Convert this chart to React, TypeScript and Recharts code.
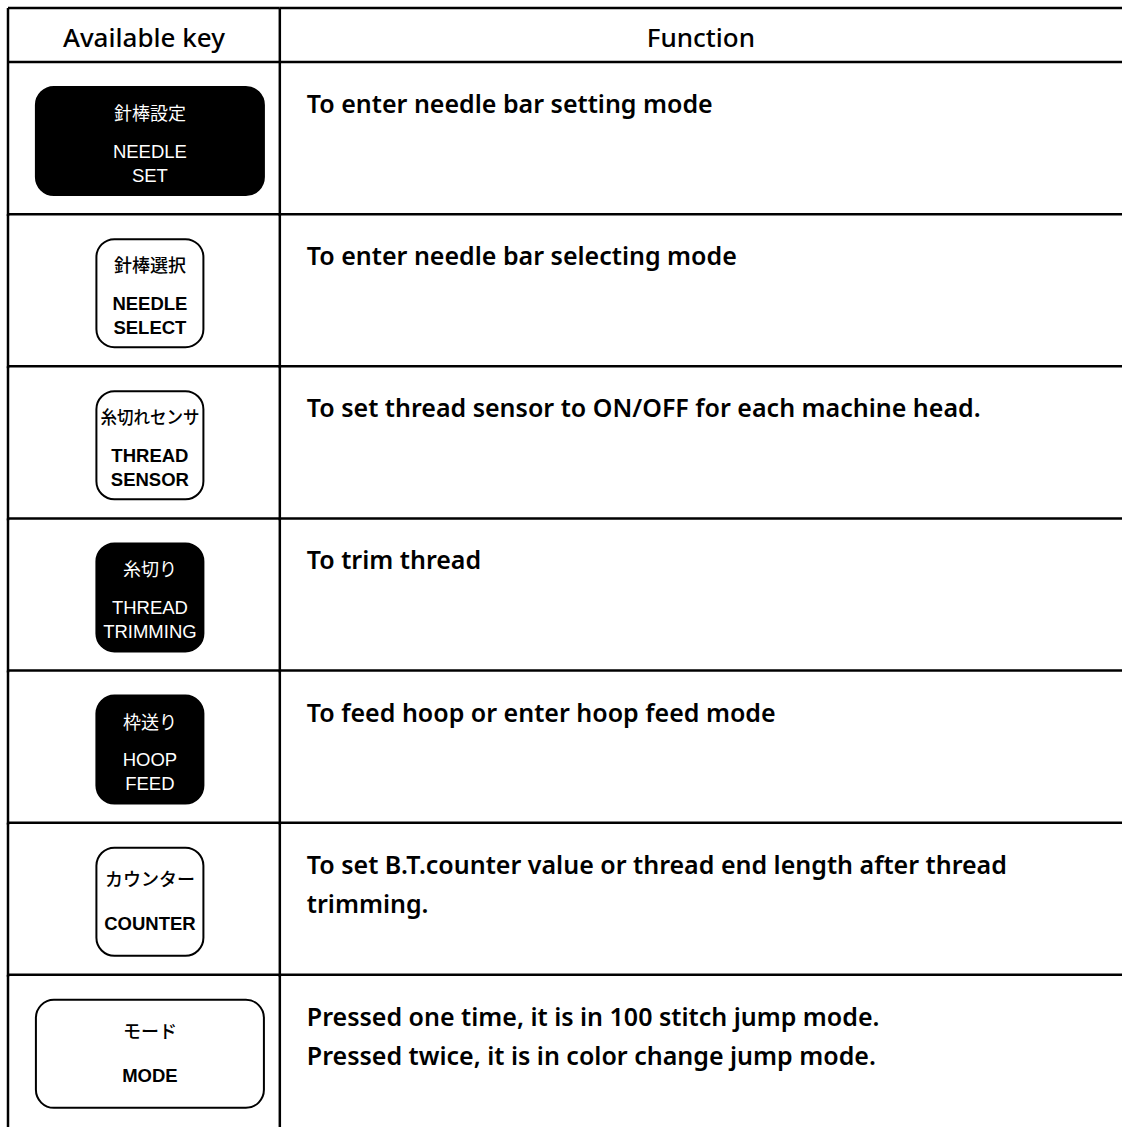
import { ComposedChart, Bar, XAxis, YAxis } from 'recharts'

const headers = ['Available key', 'Function']
const keyIds = ['needleSet', 'needleSelect', 'threadSensor', 'threadTrimming', 'hoopFeed', 'counter', 'mode']
const keyJapanese = ['針棒設定', '針棒選択', '糸切れセンサ', '糸切り', '枠送り', 'カウンター', 'モード']
const keyEnglish = [
  ['NEEDLE', 'SET'],
  ['NEEDLE', 'SELECT'],
  ['THREAD', 'SENSOR'],
  ['THREAD', 'TRIMMING'],
  ['HOOP', 'FEED'],
  ['COUNTER'],
  ['MODE']
]
const keyFilled = [true, false, false, true, true, false, false]
const keyWide = [true, false, false, false, false, false, true]
const functionText = [
  ['To enter needle bar setting mode'],
  ['To enter needle bar selecting mode'],
  ['To set thread sensor to ON/OFF for each machine head.'],
  ['To trim thread'],
  ['To feed hoop or enter hoop feed mode'],
  ['To set B.T.counter value or thread end length after thread', 'trimming.'],
  ['Pressed one time, it is in 100 stitch jump mode.', 'Pressed twice, it is in color change jump mode.']
]
// share of the table width taken by each column
const keyShare = 0.244
const functionShare = 0.756

const data = keyIds.map((id, i) => ({
  id,
  key: keyShare,
  func: functionShare,
  jp: keyJapanese[i],
  en: keyEnglish[i],
  filled: keyFilled[i],
  wide: keyWide[i],
  text: functionText[i]
}))

const HEADER_H = 54
const LINE = 2.5
const latin = '"Noto Sans", "Open Sans", sans-serif'
const cjk = '"Noto Sans CJK JP", sans-serif'
const keyFont = '"Liberation Sans", Arial, sans-serif'

const KeyCell = (props: any) => {
  const { x, y, width, height, index, payload } = props
  const cx = x + width / 2 + 6
  const cy = y + height / 2 + 3
  const w = payload.wide ? 228 : 107
  const h = 108
  const fg = payload.filled ? '#fff' : '#000'
  const en: string[] = payload.en
  const single = en.length === 1
  const longJp = payload.jp.length > 5
  return (
    <g>
      {index === 0 && (
        <>
          <line x1={x} y1={y - HEADER_H} x2={x + width} y2={y - HEADER_H} stroke="#000" strokeWidth={LINE} />
          <line x1={x} y1={y - HEADER_H} x2={x} y2={y} stroke="#000" strokeWidth={LINE} />
        </>
      )}
      <line x1={x} y1={y} x2={x + width} y2={y} stroke="#000" strokeWidth={LINE} />
      <line x1={x} y1={y} x2={x} y2={y + height + 2} stroke="#000" strokeWidth={LINE} />
      <rect
        x={cx - w / 2}
        y={cy - h / 2}
        width={w}
        height={h}
        rx={18}
        fill={payload.filled ? '#000' : '#fff'}
        stroke="#000"
        strokeWidth={2}
      />
      <text
        x={cx}
        y={cy - (single ? 24 : 29)}
        textAnchor="middle"
        dominantBaseline="central"
        fill={fg}
        fontFamily={cjk}
        fontSize={18}
        fontWeight={payload.filled ? 400 : 500}
        textLength={longJp ? w - 8 : undefined}
        lengthAdjust={longJp ? 'spacingAndGlyphs' : undefined}
      >
        {payload.jp}
      </text>
      {en.map((t, i) => (
        <text
          key={t}
          x={cx}
          y={cy + (single ? 22 : 10 + i * 24)}
          textAnchor="middle"
          dominantBaseline="central"
          fill={fg}
          fontFamily={keyFont}
          fontSize={18.5}
          fontWeight={payload.filled ? 400 : 700}
        >
          {t}
        </text>
      ))}
    </g>
  )
}

const FunctionCell = (props: any) => {
  const { x, y, width, height, index, payload } = props
  const lines: string[] = payload.text
  return (
    <g>
      {index === 0 && (
        <>
          <line x1={x} y1={y - HEADER_H} x2={x + width} y2={y - HEADER_H} stroke="#000" strokeWidth={LINE} />
          <line x1={x} y1={y - HEADER_H} x2={x} y2={y} stroke="#000" strokeWidth={LINE} />
        </>
      )}
      <line x1={x} y1={y} x2={x + width} y2={y} stroke="#000" strokeWidth={LINE} />
      <line x1={x} y1={y} x2={x} y2={y + height + 2} stroke="#000" strokeWidth={LINE} />
      {lines.map((t, i) => (
        <text
          key={t}
          x={x + 27}
          y={y + 41 + i * 39}
          dominantBaseline="central"
          fill="#000"
          fontFamily={latin}
          fontSize={25}
          fontWeight={600}
        >
          {t}
        </text>
      ))}
    </g>
  )
}

const HeaderTick = (props: any) => {
  const { x, payload, index } = props
  return (
    <text
      x={x}
      y={8 + HEADER_H / 2 + 2}
      textAnchor="middle"
      dominantBaseline="central"
      fill="#000"
      fontFamily={latin}
      fontSize={26}
      fontWeight={500}
    >
      {headers[index] ?? payload.value}
    </text>
  )
}

export default function App() {
  return (
    <div style={{ position: 'absolute', left: 0, top: 0, background: '#fff' }}>
      <ComposedChart
        width={1122}
        height={1127}
        data={data}
        layout="vertical"
        margin={{ top: 8, right: 0, bottom: 0, left: 8 }}
        barCategoryGap={0}
      >
        <XAxis
          type="number"
          orientation="top"
          domain={[0, 1]}
          ticks={[keyShare / 2, keyShare + functionShare / 2]}
          height={HEADER_H}
          axisLine={false}
          tickLine={false}
          tick={<HeaderTick />}
        />
        <YAxis type="category" dataKey="id" hide />
        <Bar dataKey="key" stackId="row" shape={<KeyCell />} isAnimationActive={false} />
        <Bar dataKey="func" stackId="row" shape={<FunctionCell />} isAnimationActive={false} />
      </ComposedChart>
    </div>
  )
}
